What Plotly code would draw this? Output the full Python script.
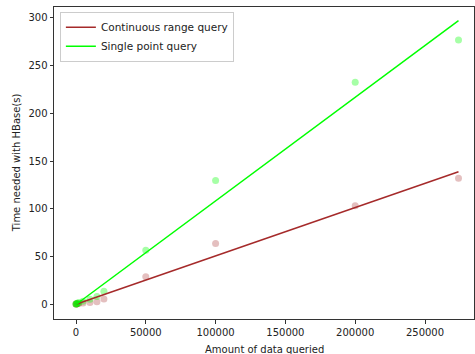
import plotly.graph_objects as go

# Data
amount = [0, 100, 500, 1000, 2000, 5000, 10000, 15000, 20000, 50000, 100000, 200000, 274000]
range_time = [0, 0, 0.1, 0.3, 0.6, 1.0, 1.5, 2.3, 5.2, 28.5, 63.5, 103, 132]
point_time = [0, 0.1, 0.4, 0.8, 1.5, 2.8, 5.0, 8.0, 13.5, 56.5, 129.5, 232.5, 277]

fit_x = [0, 274000]
range_fit = [-0.3, 138.8]
point_fit = [-0.5, 297.3]

x_ticks = [0, 50000, 100000, 150000, 200000, 250000]
y_ticks = [0, 50, 100, 150, 200, 250, 300]

range_color = "#A52A2A"
point_color = "#00FF00"

fig = go.Figure()
fig.add_trace(go.Scatter(x=amount, y=range_time, mode="markers",
                         marker=dict(color=range_color, size=7, opacity=0.3, line=dict(width=0)),
                         showlegend=False, hoverinfo="skip"))
fig.add_trace(go.Scatter(x=amount, y=point_time, mode="markers",
                         marker=dict(color=point_color, size=7, opacity=0.35, line=dict(width=0)),
                         showlegend=False, hoverinfo="skip"))
fig.add_trace(go.Scatter(x=fit_x, y=range_fit, mode="lines",
                         line=dict(color=range_color, width=1.5),
                         name="Continuous range query"))
fig.add_trace(go.Scatter(x=fit_x, y=point_fit, mode="lines",
                         line=dict(color=point_color, width=1.5),
                         name="Single point query"))

font = dict(family="DejaVu Sans", size=10, color="#222222")
legend_font = dict(family="DejaVu Sans", size=10.5, color="#222222")
axis_common = dict(showgrid=False, zeroline=False, showline=True, linecolor="#333333",
                   linewidth=1, mirror=True, ticks="outside", ticklen=3.5,
                   tickcolor="#333333", tickfont=font, automargin=False)

fig.update_layout(
    width=475, height=354,
    margin=dict(l=54, r=1, t=7, b=35, autoexpand=False),
    paper_bgcolor="white", plot_bgcolor="white",
    font=font,
    xaxis=dict(range=[-15760, 285100], tickvals=x_ticks,
               ticktext=[str(v) for v in x_ticks], **axis_common),
    yaxis=dict(range=[-15.7, 311.5], tickvals=y_ticks, **axis_common),
    legend=dict(x=0.014, y=0.985, xanchor="left", yanchor="top",
                bgcolor="rgba(255,255,255,0.8)", bordercolor="#cccccc", borderwidth=1,
                font=legend_font, tracegroupgap=0, itemwidth=30),
    showlegend=True,
    annotations=[
        dict(text="Amount of data queried", xref="paper", yref="paper",
             x=0.5, y=-0.075, xanchor="center", yanchor="top", showarrow=False, font=font),
        dict(text="Time needed with HBase(s)", xref="paper", yref="paper",
             x=-0.09, y=0.5, xanchor="center", yanchor="middle", textangle=-90,
             showarrow=False, font=font),
    ],
)

fig.write_html("out.html", config={"displayModeBar": False},
               post_script="document.body.style.margin='0';document.body.style.overflow='hidden';")
